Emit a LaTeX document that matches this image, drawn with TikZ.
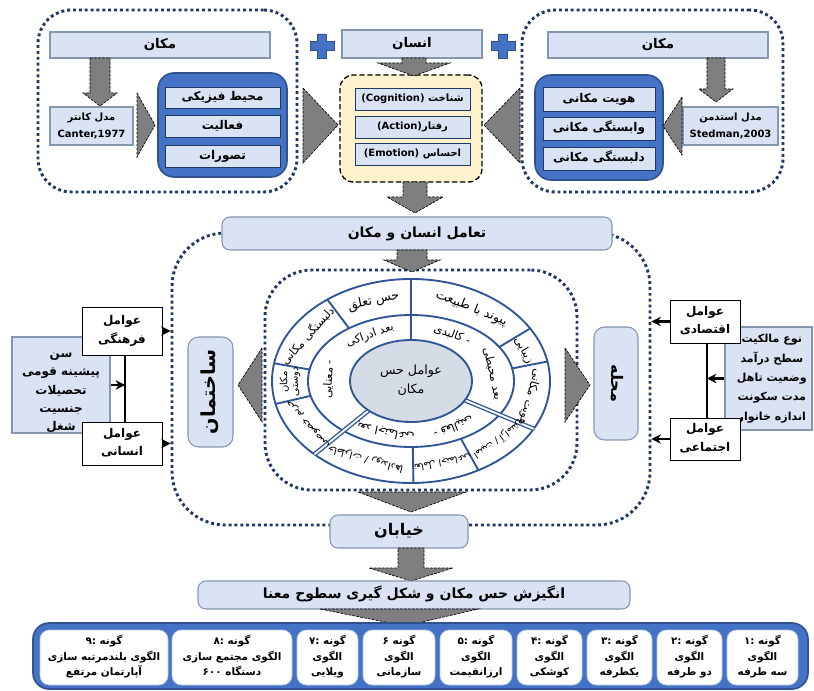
\documentclass[tikz,border=0pt]{standalone}
\usepackage{fontspec}
\setmainfont{DejaVu Sans}
\newfontfamily\fafont[Script=Arabic]{DejaVu Sans}
\TeXXeTstate=1
\usetikzlibrary{fit,arrows.meta,calc}
\newcommand{\fa}[1]{\raisebox{0pt}[0.78em][0.26em]{\fafont\beginR #1\endR}}
\newcommand{\fad}[1]{\raisebox{0pt}[0.78em][0.26em]{\fafont #1}}
\definecolor{navy}{HTML}{203864}
\definecolor{lblue}{HTML}{DAE3F3}
\definecolor{lborder}{HTML}{8497B0}
\definecolor{dblue}{HTML}{4472C4}
\definecolor{dborder}{HTML}{2F528F}
\definecolor{wheelc}{HTML}{2F5597}
\definecolor{corec}{HTML}{D6DCE5}
\definecolor{ylw}{HTML}{FFF2CC}
\definecolor{arrgray}{HTML}{7F7F7F}
\newcommand\darrow[6]{\draw[garrow] ({#1-#2},#3) -- ({#1+#2},#3) -- ({#1+#2},#4) -- ({#1+#5},#4) -- (#1,#6) -- ({#1-#5},#4) -- ({#1-#2},#4) -- cycle;}
\newcommand\plussign[1]{\draw[plusst] (#1) ++(-4.5,-12) -- ++(9,0) -- ++(0,7.5) -- ++(7.5,0) -- ++(0,9) -- ++(-7.5,0) -- ++(0,7.5) -- ++(-9,0) -- ++(0,-7.5) -- ++(-7.5,0) -- ++(0,-9) -- ++(7.5,0) -- cycle;}
\newcommand\sectlabel[6][]{%
  \pgfmathsetmacro\secrot{atan2(-(#4)*cos(#2),(#3)*sin(#2))}%
  \node[sectxt, rotate=\secrot, #1] (#5) at ({411+(#3)*cos(#2)},{381-(#4)*sin(#2)}) {#6};}
% box drawn by fit, text as its own node at the box centre
\newcommand\tbx[6][]{%
  \node[#2, fit={(#3) (#4)}] (#5) {};
  \node[#2, draw=none, fill=none, #1] (#5t) at (#5.center) {#6};}
\begin{document}
\begin{tikzpicture}[x=0.75pt,y=-0.75pt,
  base/.style={inner sep=0pt, align=center, font=\bfseries\fontsize{8}{10}\selectfont},
  bar/.style={base, draw=lborder, fill=lblue, line width=0.8pt, font=\bfseries\fontsize{10}{12}\selectfont},
  rbar/.style={bar, rounded corners=6pt},
  inb/.style={base, draw=navy, fill=lblue, line width=0.6pt, font=\bfseries\fontsize{9}{10}\selectfont},
  dbox/.style={draw=dborder, fill=dblue, line width=1.2pt, rounded corners=12pt, inner sep=0pt},
  ybox/.style={draw=black, fill=ylw, dash pattern=on 4pt off 2pt, line width=1pt, rounded corners=10pt, inner sep=0pt},
  dotbox/.style={draw=navy, line width=2.2pt, dash pattern=on 2.2pt off 2.2pt, rounded corners=25pt, inner sep=0pt},
  wbox/.style={base, draw=black, fill=white, line width=0.7pt, font=\bfseries\fontsize{9}{14}\selectfont},
  garrow/.style={fill=arrgray, draw=black, dash pattern=on 2pt off 1pt, line width=0.5pt},
  plusst/.style={fill=dblue, draw=dborder, line width=0.6pt},
  wl/.style={draw=wheelc, line width=1.4pt},
  sectxt/.style={inner sep=0pt, align=center, font=\fontsize{9.5}{10}\selectfont},
  mids/.style={font=\fontsize{8.5}{9}\selectfont},
  smalls/.style={font=\fontsize{7.5}{8}\selectfont},
  tinys/.style={font=\fontsize{7}{7.5}\selectfont},
  tbox/.style={base, draw=dblue!40, fill=white, rounded corners=7pt, line width=0.6pt, font=\bfseries\fontsize{7.8}{11.5}\selectfont},
  conn/.style={-{Stealth[length=7pt,width=7pt]}, line width=1.6pt}
]
\fill[white] (0,0) rectangle (814,691);
\useasboundingbox (0,0) rectangle (814,691);

% ---------- top left ----------
\node[dotbox, fit={(38,10) (297,192)}] (tl) {};
\tbx{bar}{50,32}{270,58}{tlplace}{\fa{مکان}}
\tbx[font=\bfseries\fontsize{7.5}{13}\selectfont]{bar}{50,107}{133,145}{canter}{\fa{مدل کانتر}\\Canter,1977}
\node[dbox, fit={(158,73) (287,177)}] (tlcore) {};
\tbx{inb}{165,87}{280,108}{phys}{\fa{محیط فیزیکی}}
\tbx{inb}{165,115}{280,137}{act}{\fa{فعالیت}}
\tbx{inb}{165,145}{280,167}{img}{\fa{تصورات}}
\darrow{100}{10}{58}{93}{17}{106}
\draw[garrow] (137,93) -- (155,125) -- (137,157) -- cycle;

% ---------- top right ----------
\node[dotbox, fit={(522,10) (783,192)}] (tr) {};
\tbx{bar}{548,32}{768,58}{trplace}{\fa{مکان}}
\tbx[font=\bfseries\fontsize{7.5}{13}\selectfont]{bar}{683,107}{778,145}{stedman}{\fa{مدل استدمن}\\Stedman,2003}
\node[dbox, fit={(535,75) (663,180)}] (trcore) {};
\tbx{inb}{543,87}{655,111}{ident}{\fa{هویت مکانی}}
\tbx{inb}{543,117}{655,140}{depend}{\fa{وابستگی مکانی}}
\tbx{inb}{543,147}{655,170}{attach}{\fa{دلبستگی مکانی}}
\darrow{716}{9}{58}{89}{17}{102}
\draw[garrow] (682,97) -- (663,126) -- (682,155) -- cycle;

% ---------- top middle ----------
\tbx{bar}{342,30}{482,58}{human}{\fa{انسان}}
\plussign{322,46}
\plussign{503,46}
\node[ybox, fit={(340,75) (482,182)}] (hcore) {};
\tbx[font=\bfseries\fontsize{7.5}{9}\selectfont]{inb}{355,88}{470,110}{cog}{(Cognition) \fa{شناخت}}
\tbx[font=\bfseries\fontsize{7.5}{9}\selectfont]{inb}{355,116}{470,138}{beh}{(Action)\fa{رفتار}}
\tbx[font=\bfseries\fontsize{7.5}{9}\selectfont]{inb}{355,143}{470,165}{emo}{(Emotion) \fa{احساس}}
\darrow{414}{12}{58}{63}{36}{76}
\draw[garrow] (303,88) -- (338,125) -- (303,163) -- cycle;
\draw[garrow] (520,88) -- (484,125) -- (520,163) -- cycle;
\darrow{415}{12}{182}{197}{28}{213}

% ---------- middle ----------
\node[dotbox, rounded corners=40pt, fit={(172,233) (650,525)}] (big) {};
\tbx[font=\bfseries\fontsize{10.5}{12}\selectfont]{rbar}{222,217}{612,250}{inter}{\fa{تعامل انسان و مکان}}
\node[dotbox, rounded corners=35pt, fit={(265,270) (577,490)}] (innerbox) {};
\darrow{412}{15}{250}{260}{28}{272}

% wheel
\draw[wl, fill=white] (411,381) ellipse [x radius=139, y radius=102];
\draw[wl] (411,381) ellipse [x radius=103, y radius=66];
\foreach \a in {127,170,193,271,299,11,31}
  \draw[wl] ({411+103*cos(\a)},{381-66*sin(\a)}) -- ({411+139*cos(\a)},{381-102*sin(\a)});
\draw[wl] ({411+61*cos(90)},{381-41*sin(90)}) -- ({411+139*cos(90)},{381-102*sin(90)});
\foreach \a in {226,332}
  \draw[draw=wheelc, line width=1pt, double=white, double distance=1.4pt] ({411+61*cos(\a)},{381-41*sin(\a)}) -- ({411+139*cos(\a)},{381-102*sin(\a)});
\draw[wl, fill=corec] (411,381) ellipse [x radius=61, y radius=41];
\node[font=\fontsize{9.5}{14}\selectfont, align=center] (coretxt) at (411,381) {\fa{عوامل حس}\\\fa{مکان}};

\sectlabel{108}{121}{84}{o1}{\fa{حس تعلق}}
\sectlabel[mids]{148}{121}{84}{o2}{\fa{دلبستگی مکانی}}
\sectlabel[smalls]{180.5}{121}{84}{o3}{\fa{مکان}\\\fa{دوستی}}
\sectlabel[smalls]{211}{121}{84}{o4}{\fa{حریم خصوصی}}
\sectlabel[smalls]{248}{121}{84}{o5}{\fa{خاطرات / رویدادها}}
\sectlabel[tinys]{285}{121}{84}{o6}{\fa{تعامل اجتماعی}}
\sectlabel[tinys]{316}{121}{84}{o7}{\fa{امنیت / آرامش}}
\sectlabel[mids]{349}{121}{84}{o8}{\fa{هویت مکانی}}
\sectlabel[mids]{21.5}{121}{84}{o9}{\fa{زیبایی}}
\sectlabel{60}{121}{84}{o10}{\fa{پیوند با طبیعت}}
\sectlabel[mids]{120}{82}{53}{i1a}{\fa{بعد ادراکی}}
\sectlabel[mids]{178}{82}{53}{i1b}{\fa{- معنایی}}
\sectlabel[mids]{252}{82}{53}{i2a}{\fa{بعد اجتماعی}}
\sectlabel[mids]{301}{82}{53}{i2b}{\fa{- فعالیتی}}
\sectlabel[mids]{8}{82}{53}{i3a}{\fa{بعد محیطی}}
\sectlabel[mids]{60}{82}{53}{i3b}{\fa{- کالبدی}}

% side boxes
\draw[garrow] (262,348) -- (238,385) -- (262,422) -- cycle;
\draw[garrow] (565,348) -- (590,385) -- (565,422) -- cycle;
\node[rbar, rounded corners=8pt, fit={(188,337) (233,447)}] (build) {};
\node[rotate=90, font=\bfseries\fontsize{14.5}{15}\selectfont] (buildt) at (build) {\fa{ساختمان}};
\node[rbar, rounded corners=8pt, fit={(594,327) (638,440)}] (nbhd) {};
\node[rotate=-90, font=\bfseries\fontsize{12}{13}\selectfont] (nbhdt) at (nbhd) {\fa{محله}};

% left factors
\tbx[font=\bfseries\fontsize{9}{13.8}\selectfont, yshift=-4.5pt]{bar}{12,337}{110,433}{demo}{\fa{سن}\\\fa{پیشینه قومی}\\\fa{تحصیلات}\\\fa{جنسیت}\\\fa{شغل}}
\tbx{wbox}{82,307}{162,355}{cult}{\fa{عوامل}\\\fa{فرهنگی}}
\tbx{wbox}{82,422}{162,465}{humf}{\fa{عوامل}\\\fa{انسانی}}
\coordinate (lv1) at (125,355);
\draw[line width=1.2pt] (cult.south -| lv1) -- (humf.north -| lv1);
\draw[conn] (demo.east) -- (demo.east -| lv1);
\draw[conn] (cult.east) -- (cult.east -| big.west);
\draw[conn] (humf.east) -- (humf.east -| big.west);

% right factors
\tbx[font=\bfseries\fontsize{8.3}{14.5}\selectfont, xshift=2.5pt]{bar}{725,327}{812,430}{econdemo}{\fa{نوع مالکیت}\\\fa{سطح درآمد}\\\fa{وضعیت تاهل}\\\fa{مدت سکونت}\\\fa{اندازه خانوار}}
\tbx{wbox}{670,300}{740,343}{econ}{\fa{عوامل}\\\fa{اقتصادی}}
\tbx{wbox}{670,418}{740,460}{soc}{\fa{عوامل}\\\fa{اجتماعی}}
\coordinate (rv1) at (707,343);
\draw[line width=1.2pt] (econ.south -| rv1) -- (soc.north -| rv1);
\draw[conn] (econdemo.west) -- (econdemo.west -| rv1);
\draw[conn] (econ.west) -- (econ.west -| big.east);
\draw[conn] (soc.west) -- (soc.west -| big.east);

% ---------- bottom ----------
\draw[garrow] (358,492) -- (466,492) -- (411,512) -- cycle;
\tbx[font=\bfseries\fontsize{12}{13}\selectfont]{rbar}{330,515}{468,548}{street}{\fa{خیابان}}
\darrow{411}{13}{548}{568}{42}{581}
\tbx[font=\bfseries\fontsize{10.5}{12}\selectfont]{rbar}{198,581}{630,609}{motiv}{\fa{انگیزش حس مکان و شکل گیری سطوح معنا}}
\draw[garrow] (320,609) -- (478,609) -- (405,626) -- cycle;
\node[dbox, fit={(33,623) (808,689)}] (types) {};
\tbx{tbox}{727,630}{798,685}{t1}{\fad{:۱} \fa{گونه}\\\fa{الگوی}\\\fa{سه طرفه}}
\tbx{tbox}{657,630}{722,685}{t2}{\fad{:۲} \fa{گونه}\\\fa{الگوی}\\\fa{دو طرفه}}
\tbx{tbox}{587,630}{652,685}{t3}{\fad{:۳} \fa{گونه}\\\fa{الگوی}\\\fa{یکطرفه}}
\tbx{tbox}{517,630}{582,685}{t4}{\fad{:۴} \fa{گونه}\\\fa{الگوی}\\\fa{کوشکی}}
\tbx{tbox}{440,630}{512,685}{t5}{\fad{:۵} \fa{گونه}\\\fa{الگوی}\\\fa{ارزانقیمت}}
\tbx{tbox}{363,630}{435,685}{t6}{\fad{۶} \fa{گونه}\\\fa{الگوی}\\\fa{سازمانی}}
\tbx{tbox}{297,630}{358,685}{t7}{\fad{:۷} \fa{گونه}\\\fa{الگوی}\\\fa{ویلایی}}
\tbx{tbox}{172,630}{292,685}{t8}{\fad{:۸} \fa{گونه}\\\fa{الگوی مجتمع سازی}\\\fad{۶۰۰} \fa{دستگاه}}
\tbx{tbox}{40,630}{168,685}{t9}{\fad{:۹} \fa{گونه}\\\fa{الگوی بلندمرتبه سازی}\\\fa{آپارتمان مرتفع}}
\end{tikzpicture}
\end{document}
